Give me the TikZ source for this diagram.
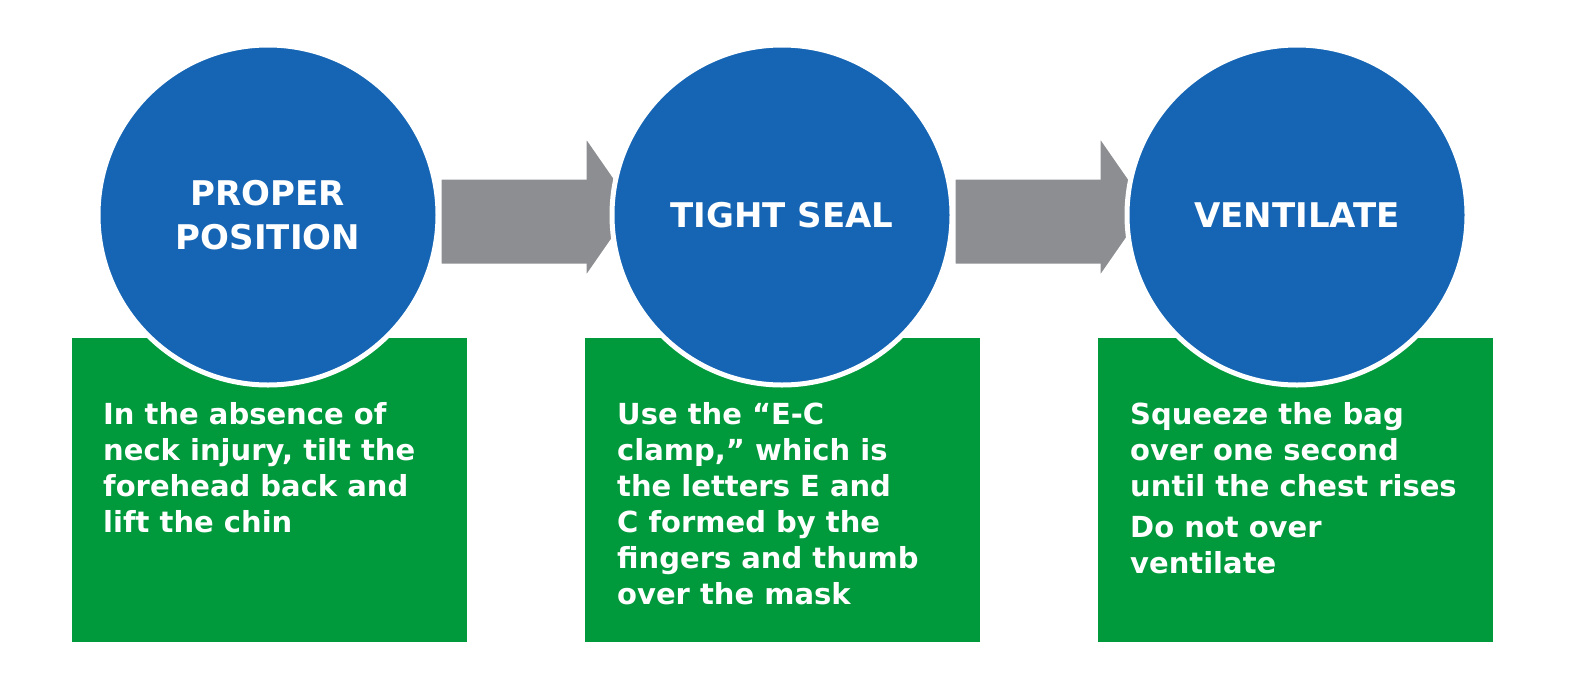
\documentclass[tikz,border=0pt]{standalone}
\usepackage{fontspec}
\setmainfont{DejaVu Sans}
\definecolor{stepblue}{RGB}{21,101,180}
\definecolor{stepgreen}{RGB}{0,154,61}
\definecolor{stepgray}{RGB}{140,142,145}
\tikzset{
  notebox/.style={fill=stepgreen,minimum width=395pt,minimum height=304pt,anchor=north west,inner sep=0pt},
  notetext/.style={anchor=north west,inner sep=0pt,align=left,text=white,font=\bfseries\fontsize{29}{36}\selectfont},
  stepcircle/.style={circle,fill=stepblue,draw=white,line width=5pt,minimum size=340pt,inner sep=0pt,align=center,text=white,font=\bfseries\fontsize{34}{44}\selectfont},
  steparrow/.style={fill=stepgray,draw=white,line width=3pt}
}
\begin{document}
\begin{tikzpicture}[x=1pt,y=-1pt]
\useasboundingbox (0,0) rectangle (1577,694);

% green boxes
\node[notebox] (box1) at (72,338) {};
\node[notebox] (box2) at (585,338) {};
\node[notebox] (box3) at (1098,338) {};

% arrows
\foreach \ax in {440,954}{
  \draw[steparrow] (\ax,178) -- (\ax+145,178) -- (\ax+145,135) -- (\ax+195,207)
    -- (\ax+145,279) -- (\ax+145,265) -- (\ax,265) -- cycle;
}

% circles
\node[stepcircle] (pos) at (268,215) {PROPER\\POSITION};
\node[stepcircle] (seal) at (782,215) {TIGHT SEAL};
\node[stepcircle] (vent) at (1297,215) {VENTILATE};

% texts
\node[notetext] (txt1) at (103,402) {In the absence of\\neck injury, tilt the\\forehead back and\\lift the chin};
\node[notetext] (txt2) at (617,402) {Use the ``E-C\\clamp,'' which is\\the letters E and\\C formed by the\\fingers and thumb\\over the mask};
\node[notetext] (txt3) at (1130,402) {Squeeze the bag\\over one second\\until the chest rises};
\node[notetext] (txt4) at (1130,516) {Do not over\\ventilate};
\end{tikzpicture}
\end{document}
